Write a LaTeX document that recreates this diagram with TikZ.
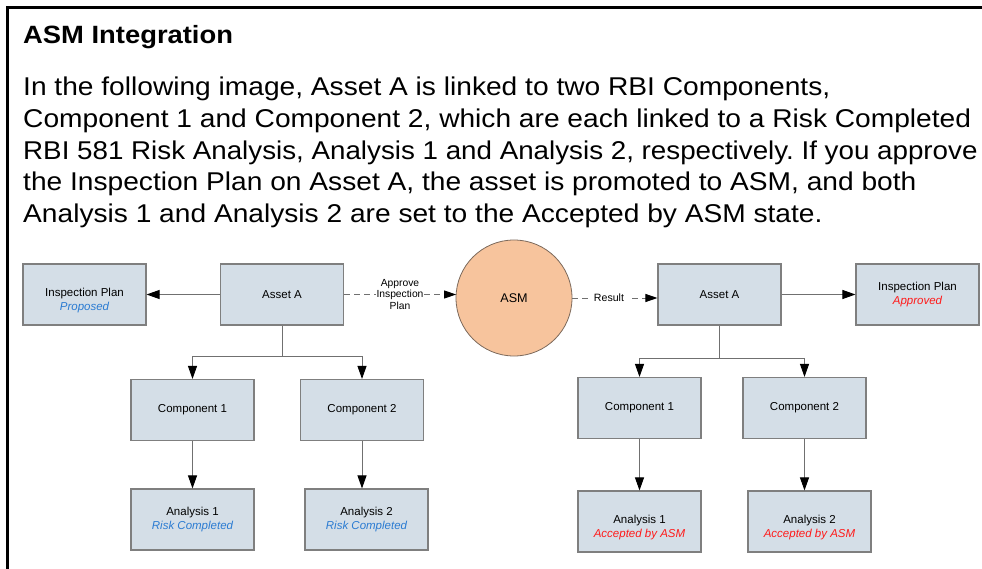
\documentclass[tikz,border=0pt]{standalone}
\usepackage{fontspec}
\setmainfont{Liberation Sans}
\newfontfamily\bodyfont[FakeStretch=1.095]{Liberation Sans}
\newfontfamily\bodyfontn[FakeStretch=1.08]{Liberation Sans}
\usetikzlibrary{arrows.meta,calc}
\frenchspacing
\definecolor{boxfill}{HTML}{D4DEE7}
\definecolor{boxline}{HTML}{7F7F7F}
\definecolor{conn}{HTML}{707070}
\definecolor{stblue}{HTML}{2A7BD2}
\definecolor{stred}{HTML}{FF1A1A}
\definecolor{asmfill}{HTML}{F7C49D}
\definecolor{asmline}{HTML}{7D6A5C}
\begin{document}
\begin{tikzpicture}[x=1pt,y=-1pt,
  box/.style={draw=boxline,fill=boxfill,line width=1.1pt,minimum width=123pt,minimum height=61pt,inner sep=0pt,font=\fontsize{11.5}{14}\selectfont,align=center},
  lbl/.style={font=\fontsize{11.5}{14}\selectfont,align=center,inner sep=0pt},
  connline/.style={draw=conn,line width=0.9pt},
  arr/.style={connline,-{Triangle[length=13pt,width=9pt,color=black,fill=black]}},
  dasharr/.style={connline,dash pattern=on 6pt off 4pt,-{Triangle[length=12pt,width=8pt,color=black,fill=black]}},
  body/.style={anchor=base west,inner sep=0pt,font=\bodyfont\fontsize{25.7}{32}\selectfont}]
\useasboundingbox (0,0) rectangle (982,569);
\fill[white] (0,0) rectangle (982,569);
% frame
\draw[line width=2.8pt,line cap=rect] (7.5,569) -- (7.5,7.5) -- (984,7.5);
% title and body
\node[anchor=base west,inner sep=0pt,font=\bodyfont\fontsize{25}{30}\selectfont\bfseries] (title) at (23,43.5) {ASM Integration};
\node[body] (l1) at (23,96) {In the following image, Asset A is linked to two RBI Components,};
\node[body] (l2) at (23,127.5) {Component 1 and Component 2, which are each linked to a Risk Completed};
\node[body,font=\bodyfontn\fontsize{25.7}{32}\selectfont] (l3) at (23,159.5) {RBI 581 Risk Analysis, Analysis 1 and Analysis 2, respectively. If you approve};
\node[body] (l4) at (23,191) {the Inspection Plan on Asset A, the asset is promoted to ASM, and both};
\node[body] (l5) at (23,223) {Analysis 1 and Analysis 2 are set to the Accepted by ASM state.};
% left side
\node[box] (ipL) at (84.5,294.5) {};
\node[lbl] (ipLt) at (84.5,301) {Inspection Plan\\\textcolor{stblue}{\itshape Proposed}};
\node[box] (assetL) at (282,294.5) {Asset A};
\node[box] (comp1L) at (192.5,410) {Component 1};
\node[box] (comp2L) at (362,410) {Component 2};
\node[box] (an1L) at (192.5,519.5) {Analysis 1\\\textcolor{stblue}{\itshape Risk Completed}};
\node[box] (an2L) at (366.5,519.5) {Analysis 2\\\textcolor{stblue}{\itshape Risk Completed}};
% ASM
\node[circle,draw=asmline,fill=asmfill,line width=0.8pt,minimum size=116pt,inner sep=0pt,font=\fontsize{12.6}{15}\selectfont] (asm) at (514,298) {ASM};
% right side
\node[box] (assetR) at (719.5,294.5) {Asset A};
\node[box] (ipR) at (917.5,294.5) {Inspection Plan\\\textcolor{stred}{\itshape Approved}};
\node[box] (comp1R) at (639.5,408) {Component 1};
\node[box] (comp2R) at (804.5,408) {Component 2};
\node[box] (an1R) at (639.5,521.5) {};
\node[lbl] (an1Rt) at (639.5,528) {Analysis 1\\\textcolor{stred}{\itshape Accepted by ASM}};
\node[box] (an2R) at (809.5,521.5) {};
\node[lbl] (an2Rt) at (809.5,528) {Analysis 2\\\textcolor{stred}{\itshape Accepted by ASM}};
% left connectors
\draw[arr] (assetL.west) -- (ipL.east);
\coordinate (jL) at (282,356);
\draw[connline] (assetL.south) -- (jL);
\draw[arr] (jL) -| (comp1L.north);
\draw[arr] (jL) -| (comp2L.north);
\draw[arr] (comp1L.south) -- (an1L.north);
\draw[arr] (comp2L.south) -- (comp2L.south |- an2L.north);
% approve
\coordinate (asmin) at (456.1,294.5);
\draw[dasharr] (assetL.east) -- (asmin);
\node[lbl,fill=white,font=\fontsize{10.3}{11.5}\selectfont,inner xsep=1pt] (appr) at (400,294.5) {Approve\\Inspection\\Plan};
% result
\draw[dasharr] (asm.east) -- (assetR.west |- asm.east);
\node[lbl,fill=white,font=\fontsize{10.6}{12}\selectfont,inner xsep=4pt,inner ysep=1pt] (res) at (609,298) {Result};
% right connectors
\draw[arr] (assetR.east) -- (ipR.west);
\coordinate (jR) at (719.5,358);
\draw[connline] (assetR.south) -- (jR);
\draw[arr] (jR) -| (comp1R.north);
\draw[arr] (jR) -| (comp2R.north);
\draw[arr] (comp1R.south) -- (an1R.north);
\draw[arr] (comp2R.south) -- (comp2R.south |- an2R.north);
\end{tikzpicture}
\end{document}
